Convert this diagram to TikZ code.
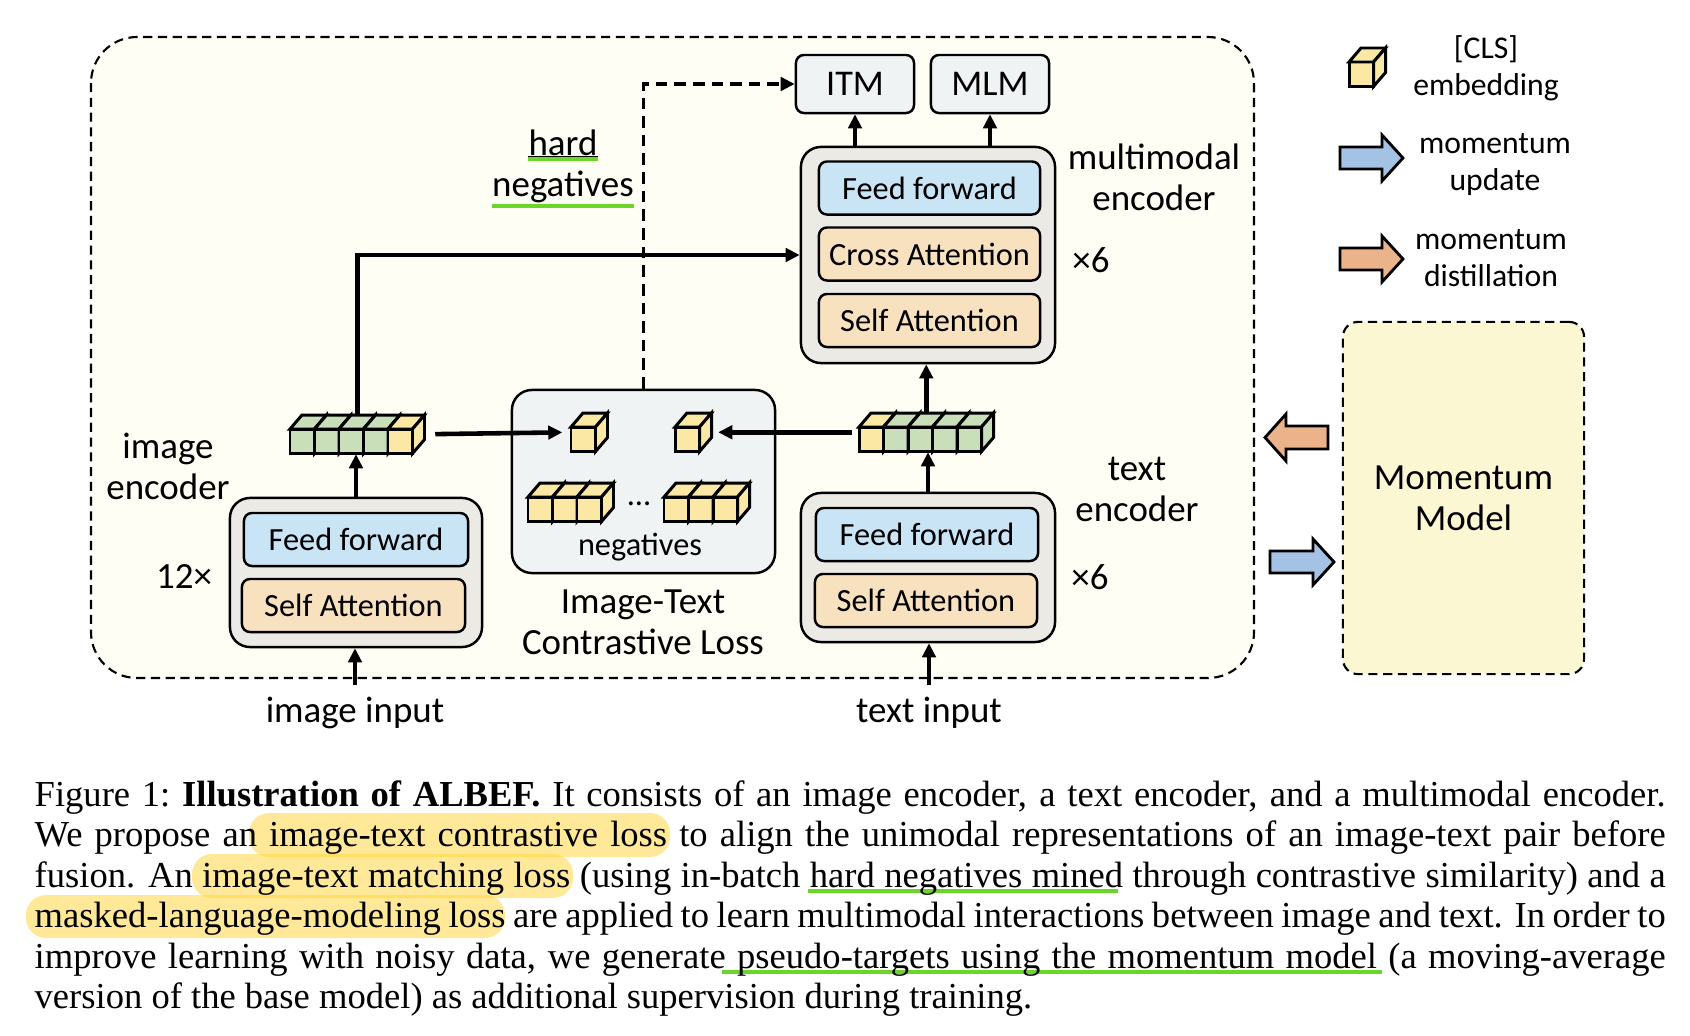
\documentclass[tikz,border=0pt]{standalone}
\usepackage{fontspec}
\setmainfont{Liberation Serif}
\newfontfamily\carlito{Carlito}
\usetikzlibrary{arrows.meta}
\definecolor{areabg}{RGB}{254,254,244}
\definecolor{encgray}{RGB}{235,234,229}
\definecolor{ffblue}{RGB}{201,228,244}
\definecolor{attnbeige}{RGB}{247,225,190}
\definecolor{headgray}{RGB}{239,243,243}
\definecolor{embgreen}{RGB}{200,223,186}
\definecolor{embyellow}{RGB}{251,232,165}
\definecolor{momyellow}{RGB}{251,247,211}
\definecolor{updblue}{RGB}{164,194,227}
\definecolor{distorange}{RGB}{235,179,138}
\definecolor{hlyellow}{RGB}{255,211,51}
\definecolor{hlgreen}{RGB}{107,214,42}
\newcommand{\embcube}[3]{%
  \draw[cubeline, fill=#3] (#1,#2) rectangle ++(24.5,24.5);
  \draw[cubeline, fill=#3] (#1,#2) -- ++(12,-14) -- ++(24.5,0) -- ++(-12,14) -- cycle;
  \draw[cubeline, fill=#3] (#1+24.5,#2) -- ++(12,-14) -- ++(0,24.5) -- ++(-12,14) -- cycle;
}
\begin{document}
\begin{tikzpicture}[x=0.01cm, y=-0.01cm, font=\carlito,
    areabox/.style={draw, line width=0.6pt, dash pattern=on 2.6pt off 1.6pt, fill=areabg, rounded corners=0.46cm},
    encbox/.style={draw, line width=0.7pt, fill=encgray, rounded corners=0.2cm, inner sep=0},
    layerbox/.style={draw, line width=0.7pt, rounded corners=0.08cm, minimum width=2.22cm, minimum height=0.53cm, inner sep=0, font=\carlito\fontsize{9.2}{11}\selectfont},
    ffbox/.style={layerbox, fill=ffblue},
    attnbox/.style={layerbox, fill=attnbeige},
    headbox/.style={draw, line width=0.7pt, fill=headgray, rounded corners=0.08cm, minimum width=1.18cm, minimum height=0.58cm, font=\carlito\fontsize{10.3}{12}\selectfont},
    lbl/.style={align=center, font=\carlito\fontsize{10.5}{11.7}\selectfont},
    smalllbl/.style={font=\carlito\fontsize{9.2}{11}\selectfont},
    legend/.style={align=center, font=\carlito\fontsize{9}{10.5}\selectfont},
    featbox/.style={inner sep=0, minimum height=0.385cm},
    arr/.style={line width=1.3pt, -{Triangle[length=4pt,width=3.8pt]}},
    hardneg/.style={arr, line width=1pt, dash pattern=on 3.3pt off 2pt},
    cubeline/.style={line width=0.85pt},
    fatarrow/.style={draw, line width=0.8pt},
    hilite/.style={fill=hlyellow, fill opacity=0.5, rounded corners=0.2cm},
    greenline/.style={hlgreen, line width=1.1pt}]
  \useasboundingbox (0,0) rectangle (1690,1036);
  \draw[areabox] (91,37) rectangle (1254,678);
  \node[encbox, minimum width=2.52cm, minimum height=1.49cm] (imgenc) at (356,572.5) {};
  \node[ffbox, minimum width=2.24cm] (imgff) at (356,539.5) {Feed forward};
  \node[attnbox, minimum width=2.23cm] (imgsa) at (353.5,605.5) {Self Attention};
  \node[encbox, minimum width=2.54cm, minimum height=1.49cm] (txtenc) at (928,567.5) {};
  \node[ffbox] (txtff) at (927,534.5) {Feed forward};
  \node[attnbox] (txtsa) at (926,600.5) {Self Attention};
  \node[encbox, minimum width=2.54cm, minimum height=2.16cm] (mmenc) at (928,255) {};
  \node[ffbox, minimum width=2.21cm] (mmff) at (929.5,188) {Feed forward};
  \node[attnbox, minimum width=2.21cm] (mmca) at (929.5,254) {Cross Attention};
  \node[attnbox, minimum width=2.21cm] (mmsa) at (929.5,320.5) {Self Attention};
  \node[headbox] (itm) at (855,84) {ITM};
  \node[headbox] (mlm) at (990,84) {MLM};
  \node[encbox, fill=headgray, minimum width=2.63cm, minimum height=1.83cm] (itc) at (643.5,481.5) {};
  \node[draw, line width=0.6pt, dash pattern=on 2.6pt off 1.6pt, fill=momyellow, rounded corners=0.15cm, minimum width=2.41cm, minimum height=3.52cm, lbl] (momentum) at (1463.5,498) {Momentum\\Model};
  \node[featbox, minimum width=1.345cm] (imgfeat) at (357.25,434.25) {};
  \node[featbox, minimum width=1.345cm] (txtfeat) at (926.25,432.25) {};
  \node[featbox, minimum width=0.365cm] (clsimg) at (589.25,432.25) {};
  \node[featbox, minimum width=0.365cm] (clstxt) at (693.25,432.25) {};
  \node[lbl] (imginput) at (355,713) {image input};
  \node[lbl] (txtinput) at (929,713) {text input};
  \draw[arr] (imginput.north) -- (imginput.north |- imgenc.south);
  \draw[arr] (txtinput.north) -- (txtinput.north |- txtenc.south);
  \draw[arr] (imgenc.north) -- (imgenc.north |- imgfeat.south);
  \draw[arr] (txtenc.north) -- (txtenc.north |- txtfeat.south);
  \draw[arr] (imgfeat.north) |- (mmenc.west);
  \draw[arr] (txtfeat.north) -- (txtfeat.north |- mmenc.south);
  \draw[arr, shorten <=0.1cm, shorten >=0.08cm] (imgfeat.east) -- (clsimg.west);
  \draw[arr, shorten <=0.06cm, shorten >=0.06cm] (txtfeat.west) -- (clstxt.east);
  \draw[arr] (itm.south |- mmenc.north) -- (itm.south);
  \draw[arr] (mlm.south |- mmenc.north) -- (mlm.south);
  \draw[hardneg] (itc.north) |- (itm.west);
  \foreach \i in {0,...,3}
    \embcube{290+24.5*\i}{429}{embgreen};
  \embcube{388}{429}{embyellow}
  \embcube{859}{427}{embyellow}
  \foreach \i in {1,...,4}
    \embcube{859+24.5*\i}{427}{embgreen};
  \embcube{571}{427}{embyellow}
  \embcube{675}{427}{embyellow}
  \foreach \i in {0,1,2}
    \embcube{528+24.5*\i}{497}{embyellow};
  \foreach \i in {0,1,2}
    \embcube{664+24.5*\i}{497}{embyellow};
  \node[smalllbl, anchor=base] (negdots) at (639,505) {...};
  \node[smalllbl] (neglbl) at (640,547) {negatives};
  \node[lbl] (itclbl) at (643,622.5) {Image-Text\\Contrastive Loss};
  \node[lbl, inner sep=0] (hardlbl) at (563,143) {hard};
  \node[lbl, inner sep=0] (hardneglbl) at (563,187) {negatives};
  \draw[line width=0.5pt] ([yshift=-0.005cm]hardlbl.south west) -- ([yshift=-0.005cm]hardlbl.south east);
  \draw[greenline] ([yshift=-0.025cm]hardlbl.south west) -- ([yshift=-0.025cm]hardlbl.south east);
  \draw[greenline] ([yshift=-0.02cm]hardneglbl.south west) -- ([yshift=-0.02cm]hardneglbl.south east);
  \node[lbl] (imgenclbl) at (168,466) {image\\encoder};
  \node[lbl] (txtenclbl) at (1137,489.5) {text\\encoder};
  \node[lbl] (mmenclbl) at (1154,177.5) {multimodal\\encoder};
  \node[lbl] (imgrep) at (184,577) {12×};
  \node[lbl] (txtrep) at (1090,577) {×6};
  \node[lbl] (mmrep) at (1091,260) {×6};
  \embcube{1349}{62}{embyellow}
  \node[legend] (clslbl) at (1486,68.5) {[CLS]\\embedding};
  \draw[fatarrow, fill=updblue] (1340,147) -- ++(42,0) -- ++(0,-12) -- ++(21,23) -- ++(-21,23) -- ++(0,-12) -- ++(-42,0) -- cycle;
  \node[legend] (updlbl) at (1495,165) {momentum\\update};
  \draw[fatarrow, fill=distorange] (1340,248) -- ++(42,0) -- ++(0,-12) -- ++(21,23) -- ++(-21,23) -- ++(0,-12) -- ++(-42,0) -- cycle;
  \node[legend] (distlbl) at (1491,258.5) {momentum\\distillation};
  \draw[fatarrow, fill=distorange] (1265,437.5) -- (1286,414) -- (1286,426) -- (1328,426) -- (1328,449) -- (1286,449) -- (1286,461) -- cycle;
  \draw[fatarrow, fill=updblue] (1270,551) -- (1313,551) -- (1313,539) -- (1334,562) -- (1313,585) -- (1313,573) -- (1270,573) -- cycle;
  \fill[hilite] (249,813) rectangle (670,857);
  \fill[hilite] (192,854) rectangle (573,898);
  \fill[hilite] (26,895) rectangle (505,938);
  \draw[greenline] (808,891) -- (1118,891);
  \draw[greenline] (722,972) -- (1382,972);
  \node[anchor=north west, text width=16.30cm, align=justify, inner sep=0,
    font=\rmfamily\fontsize{10.4}{11.5}\selectfont] (caption) at (34,780) {\hyphenpenalty=10000\exhyphenpenalty=10000
    Figure 1:\ \textbf{Illustration of ALBEF.} It consists of an image encoder, a text encoder, and a multimodal encoder.\linebreak
    We propose an image-text contrastive loss to align the unimodal representations of an image-text pair before\linebreak
    fusion. An image-text matching loss (using in-batch hard negatives mined through contrastive similarity) and a\linebreak
    masked-language-modeling loss are applied to learn multimodal interactions between image and text. In order to\linebreak
    improve learning with noisy data, we generate pseudo-targets using the momentum model (a moving-average\linebreak
    version of the base model) as additional supervision during training.};
\end{tikzpicture}
\end{document}
